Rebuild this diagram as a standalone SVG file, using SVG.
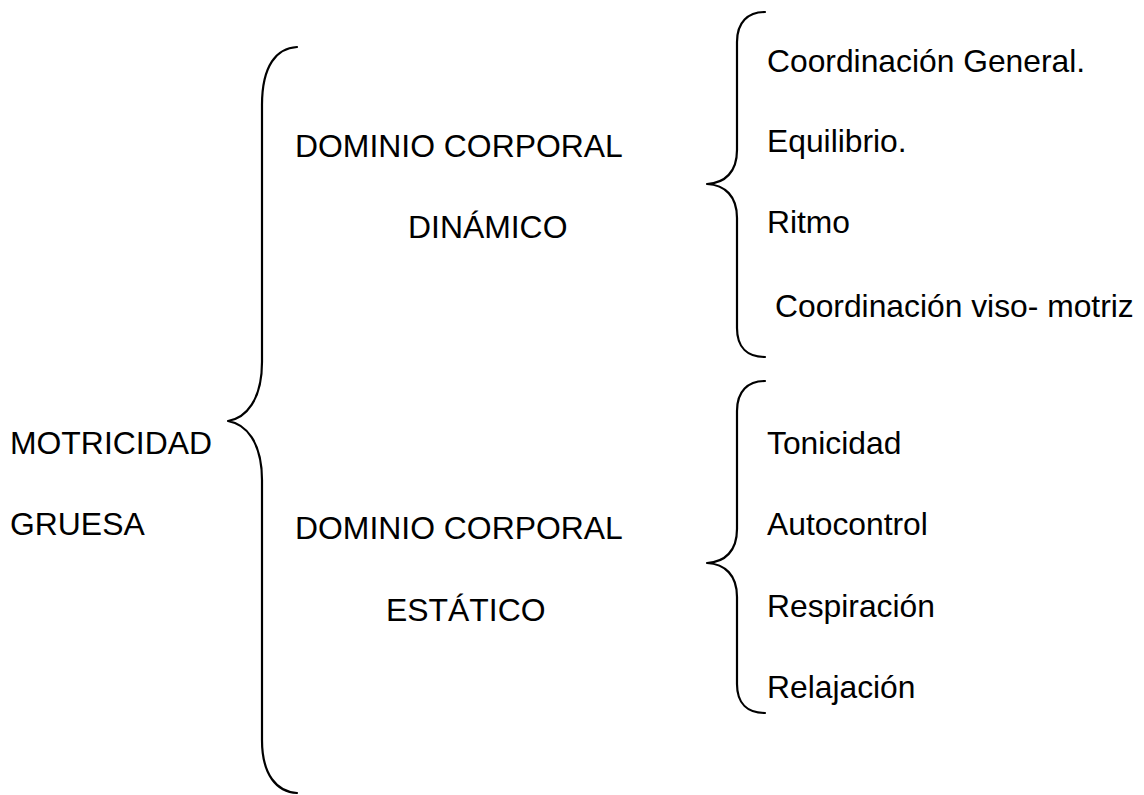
<svg xmlns="http://www.w3.org/2000/svg" width="1144" height="795" viewBox="0 0 1144 795">
<style>
.t{font-family:"Liberation Sans",Arial,sans-serif;font-size:31.9px;fill:#000}
.s{font-family:"Liberation Sans",Arial,sans-serif;font-size:31.8px;fill:#000}
.b{fill:none;stroke:#000;stroke-width:2.2;stroke-linecap:round;stroke-linejoin:round}
</style>
<rect width="1144" height="795" fill="#fff"/>
<g id="connectors">
<path class="b" d="M297,47 C277,48 262,65 262,105 L262,362 C262,400 246,418 228,421 C246,424 262,442 262,480 L262,740 C262,775 277,792 297,793"/>
<path class="b" d="M765,12 C748,12 737,22 737,42 L737,150 C737,172 725,183 707,184 C725,185 737,196 737,218 L737,328 C737,348 748,357 765,357"/>
<path class="b" d="M765,381 C748,381 737,391 737,411 L737,529 C737,551 725,562 707,563 C725,564 737,575 737,597 L737,684 C737,704 748,713 765,713"/>
</g>
<g id="root"><text class="t" x="10" y="454">MOTRICIDAD</text><text class="t" x="10" y="535">GRUESA</text></g>
<g id="dinamico"><text class="t" x="295" y="157">DOMINIO CORPORAL</text><text class="t" x="408" y="238">DINÁMICO</text></g>
<g id="estatico"><text class="t" x="295" y="539">DOMINIO CORPORAL</text><text class="t" x="386" y="621">ESTÁTICO</text></g>
<g id="d1"><text class="s" x="767" y="72">Coordinación General.</text></g>
<g id="d2"><text class="s" x="767" y="152">Equilibrio.</text></g>
<g id="d3"><text class="s" x="767" y="233">Ritmo</text></g>
<g id="d4"><text class="s" x="775" y="317">Coordinación viso- motriz</text></g>
<g id="e1"><text class="s" x="767" y="454">Tonicidad</text></g>
<g id="e2"><text class="s" x="767" y="535">Autocontrol</text></g>
<g id="e3"><text class="s" x="767" y="617">Respiración</text></g>
<g id="e4"><text class="s" x="767" y="698">Relajación</text></g>
</svg>
